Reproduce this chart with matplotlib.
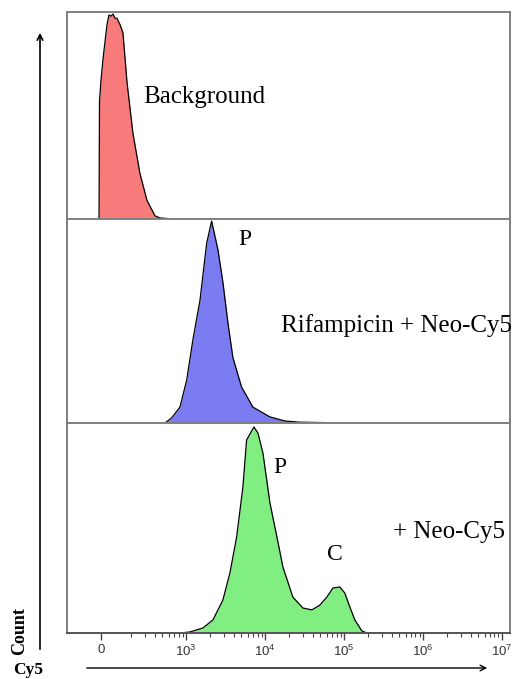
import numpy as np
import matplotlib.pyplot as plt
from matplotlib.ticker import FixedLocator, NullFormatter
from matplotlib.patches import FancyArrowPatch

plt.rcParams['mathtext.fontset'] = 'custom'
plt.rcParams['mathtext.rm'] = 'Liberation Sans'

# Cy5 intensity (channel values) and normalised count for each sample
bg_x = [-13, -10, 0, 13, 40, 53, 66, 80, 93, 106, 126, 146, 173, 211, 259, 318, 402, 465, 719]
bg_y = [0, 0.57, 0.67, 0.77, 0.94, 0.986, 0.98, 0.99, 0.97, 0.97, 0.94, 0.90, 0.66, 0.415,
        0.22, 0.09, 0.015, 0.005, 0.0]

rif_x = [537, 653, 832, 1012, 1216, 1490, 1811, 2095, 2517, 2911, 3372, 3899, 5022, 6982,
         11450, 17740, 27470, 118000, 400000]
rif_y = [0, 0.025, 0.078, 0.21, 0.41, 0.60, 0.88, 0.99, 0.85, 0.69, 0.49, 0.32, 0.176, 0.078,
         0.03, 0.01, 0.004, 0.0, 0.0]

neo_x = [0, 832, 1115, 1625, 2176, 2911, 3573, 4345, 5215, 5808, 7193, 8090, 9355, 11480,
         14070, 16760, 22400, 29980, 38980, 49200, 60390, 71940, 88200, 102000, 118000,
         136600, 167500, 193700, 1000000]
neo_y = [0, 0.0, 0.005, 0.024, 0.062, 0.157, 0.286, 0.457, 0.695, 0.919, 0.981, 0.952, 0.857,
         0.619, 0.457, 0.314, 0.171, 0.119, 0.110, 0.133, 0.171, 0.214, 0.219, 0.190, 0.124,
         0.062, 0.01, 0.0, 0.0]

tick_vals = [0, 1e3, 1e4, 1e5, 1e6, 1e7]
tick_labels = ['0', '$10^3$', '$10^4$', '$10^5$', '$10^6$', '$10^7$']

# biexponential-like display: linear near zero, log above 200
T = 200.0
P0 = 1.92
PT = np.log10(T)


def fwd(x):
    x = np.asarray(x, dtype=float)
    return np.where(x < T, P0 + (PT - P0) * x / T, np.log10(np.maximum(x, T)))


def inv(p):
    p = np.asarray(p, dtype=float)
    return np.where(p < PT, (p - P0) / (PT - P0) * T, 10 ** np.clip(p, PT, 12))


W, H = 513, 679
fig = plt.figure(figsize=(W / 100, H / 100), dpi=100)


def fx(px):
    return px / W


def fy(py):
    return 1 - py / H


left, right = 67, 510
panels = [(12, 219), (219, 423), (423, 633)]
samples = [(bg_x, bg_y, '#f77b7b'), (rif_x, rif_y, '#7b7cf2'), (neo_x, neo_y, '#80ee80')]

axes = []
for (top, bot), (xs, ys, col) in zip(panels, samples):
    ax = fig.add_axes([fx(left), fy(bot), fx(right - left), (bot - top) / H])
    ax.set_xscale('function', functions=(fwd, inv))
    ax.set_xlim(-226, 1.26e7)
    ax.set_ylim(0, 1.0)
    ax.fill_between(xs, ys, color=col, lw=0)
    ax.plot(xs, ys, color='black', lw=0.9)
    ax.set_yticks([])
    for s in ax.spines.values():
        s.set_color('#808080')
        s.set_linewidth(1.4)
    axes.append(ax)

for ax in axes[:2]:
    ax.set_xticks([])
    ax.xaxis.set_minor_locator(FixedLocator([]))

axb = axes[2]
axb.set_xticks(tick_vals)
axb.set_xticklabels(tick_labels, fontsize=9.5, color='#333333', family='Liberation Sans')
minor = [k * 10 ** d for d in range(2, 7) for k in range(2, 10)]
axb.xaxis.set_minor_locator(FixedLocator(minor))
axb.xaxis.set_minor_formatter(NullFormatter())
axb.tick_params(axis='x', which='major', length=5, width=1.0, color='#444444', pad=3)
axb.tick_params(axis='x', which='minor', length=3, width=0.8, color='#444444')
axb.spines['bottom'].set_color('#555555')

serif = 'Liberation Serif'
fs = 18
fig.text(fx(143), fy(103), 'Background', fontsize=fs, family=serif, va='baseline')
fig.text(fx(245), fy(245), 'P', fontsize=fs - 1, family=serif, ha='center', va='baseline')
fig.text(fx(281), fy(332), 'Rifampicin + Neo-Cy5', fontsize=fs, family=serif, va='baseline')
fig.text(fx(280), fy(473), 'P', fontsize=fs - 1, family=serif, ha='center', va='baseline')
fig.text(fx(335), fy(560), 'C', fontsize=fs - 1, family=serif, ha='center', va='baseline')
fig.text(fx(393), fy(538), '+ Neo-Cy5', fontsize=fs, family=serif, va='baseline')

fig.text(fx(20), fy(631), 'Count', fontsize=13, family=serif, weight='bold',
         rotation=90, ha='center', va='center')
fig.text(fx(28), fy(670), 'Cy5', fontsize=12.5, family=serif, weight='bold',
         ha='center', va='center')

fig.add_artist(FancyArrowPatch(
    (fx(40), fy(652)), (fx(40), fy(30)), transform=fig.transFigure,
    arrowstyle='->', mutation_scale=10, lw=1.2, color='black'))
fig.add_artist(FancyArrowPatch(
    (fx(84), fy(668)), (fx(490), fy(668)), transform=fig.transFigure,
    arrowstyle='->', mutation_scale=10, lw=1.0, color='black'))

fig.savefig('out.png', dpi=100)
